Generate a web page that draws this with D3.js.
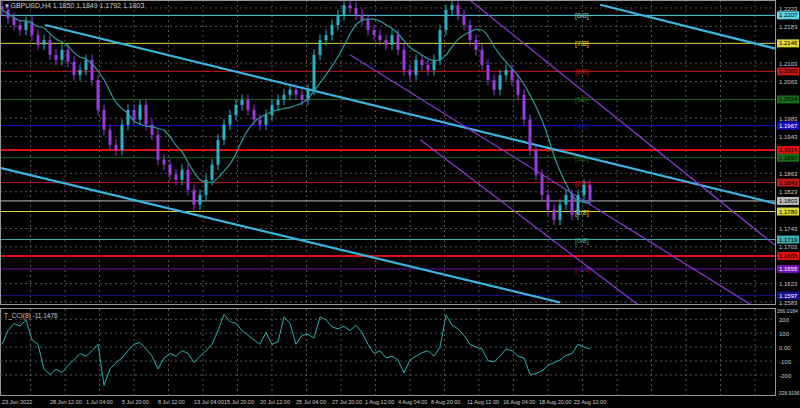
<!DOCTYPE html>
<html><head><meta charset="utf-8">
<script src="https://cdn.jsdelivr.net/npm/d3@7"></script>
<style>body{margin:0;background:#000}svg{display:block}</style>
</head><body><svg id="c" width="800" height="408"></svg>
<script>
const closes=[1.2219,1.2201,1.2186,1.2175,1.2193,1.2164,1.2143,1.2153,1.2121,1.2110,1.2132,1.2106,1.2077,1.2088,1.2110,1.2066,1.2001,1.1958,1.1925,1.1914,1.1969,1.2001,1.1980,1.2012,1.1969,1.1947,1.1893,1.1882,1.1860,1.1849,1.1871,1.1827,1.1795,1.1816,1.1849,1.1882,1.1936,1.1969,1.1990,1.2012,1.2023,1.2001,1.1980,1.1969,1.1990,1.2012,1.2023,1.2034,1.2045,1.2034,1.2023,1.2045,1.2121,1.2153,1.2164,1.2186,1.2208,1.2229,1.2223,1.2208,1.2197,1.2175,1.2164,1.2153,1.2143,1.2164,1.2132,1.2088,1.2077,1.2110,1.2099,1.2088,1.2110,1.2175,1.2219,1.2229,1.2208,1.2186,1.2153,1.2132,1.2099,1.2066,1.2045,1.2077,1.2088,1.2066,1.2034,1.1980,1.1914,1.1860,1.1816,1.1784,1.1762,1.1795,1.1816,1.1773,1.1816,1.1838,1.1805];
const cci=[20,118,170,150,196,52,20,-157,-196,-157,-183,-131,-92,-46,-65,-26,20,-275,-157,-111,-78,-26,20,33,-13,-65,-157,-78,-46,-65,-26,-46,-111,-65,-26,20,118,235,183,170,118,85,52,20,105,20,39,216,170,20,85,92,65,216,196,144,131,150,118,157,105,20,-46,-26,-78,-65,-92,-183,-92,-65,-39,-26,-65,0,229,157,131,85,20,0,-13,-98,-105,-65,-13,-26,-65,-78,-196,-190,-170,-131,-111,-92,-59,-46,20,0,-13];
const priceTicks=[1.2223,1.2183,1.2103,1.2063,1.1983,1.1943,1.1863,1.1823,1.1743,1.1703,1.1623,1.1583];
const levels=[[1.2207,"#5ad6e8","1.2207","[8/8]"],[1.2146,"#d8d838","1.2146","[7/8]"],[1.2085,"#c01818","1.2085","[6/8]"],[1.2024,"#1a6a1a","1.2024","[5/8]"],[1.1967,"#1010c0","1.1967","[4/8]"],[1.1914,"#e01010","1.1914",""],[1.1897,"#1a6a1a","1.1897","[3/8]"],[1.1843,"#c01818","1.1843","[2/8]"],[1.1803,"#bbbbbb","1.1803",""],[1.1780,"#d8d838","1.1780","[1/8]"],[1.1719,"#3ab0b0","1.1719","[0/8]"],[1.1683,"#e01010","1.1666",""],[1.1655,"#7010b0","1.1655","[-1/8]"],[1.1597,"#10108a","1.1597","[-2/8]"]];
const dateLabels=[[0,"23 Jun 2022"],[8,"28 Jun 12:00"],[14,"1 Jul 04:00"],[20,"5 Jul 20:00"],[26,"8 Jul 12:00"],[32,"13 Jul 04:00"],[37,"15 Jul 20:00"],[43,"20 Jul 12:00"],[49,"25 Jul 04:00"],[55,"27 Jul 20:00"],[60.5,"1 Aug 12:00"],[66,"4 Aug 04:00"],[71.5,"8 Aug 20:00"],[77.5,"11 Aug 12:00"],[83.5,"16 Aug 04:00"],[89.5,"18 Aug 20:00"],[95.3,"23 Aug 12:00"]];
const cyanLines=[[[7.2,1.2186],[129.7,1.1795]],[[99.7,1.2230],[129.7,1.2132]],[[-0.3,1.1875],[93,1.1582]]];
const purpleLines=[[[78,1.2240],[128.8,1.1707]],[[58,1.2121],[124.7,1.1578]],[[69.7,1.1936],[106,1.1577]]];
const cciTicks=[200,100,0,-100,-200];

const svg=d3.select("#c");
const F="Liberation Sans Narrow, Liberation Sans, DejaVu Sans";
const x=d3.scaleLinear().domain([0,1]).range([2,8]);
const y=d3.scaleLinear().domain([1.2223,1.1583]).range([8,302]);
const yc=d3.scaleLinear().domain([266,-328.9]).range([310,393]);
const W=775;
svg.append("defs").append("clipPath").attr("id","m").append("rect").attr("x",0).attr("y",0).attr("width",W).attr("height",304);
svg.append("defs").append("clipPath").attr("id","s").append("rect").attr("x",0).attr("y",309).attr("width",W).attr("height",86);
const g=svg.append("g").attr("clip-path","url(#m)");
const gx=d3.range(-1,132,5.75);
g.selectAll(".vx").data(gx).join("line").attr("x1",d=>x(d)).attr("x2",d=>x(d)).attr("y1",0).attr("y2",304).attr("stroke","#555").attr("stroke-dasharray","2,3");
g.selectAll(".hy").data(priceTicks).join("line").attr("x1",0).attr("x2",W).attr("y1",d=>y(d)).attr("y2",d=>y(d)).attr("stroke","#555").attr("stroke-dasharray","2,3");
g.selectAll(".lv").data(levels).join("line").attr("x1",0).attr("x2",W).attr("y1",d=>y(d[0])).attr("y2",d=>y(d[0])).attr("stroke",d=>d[1]).attr("stroke-width",d=>d[1]=="#e01010"?2:1);
g.selectAll(".lt").data(levels.filter(d=>d[3])).join("text").attr("x",575).attr("y",d=>y(d[0])+3).attr("fill",d=>d[1]).attr("font-size",7).attr("font-family",F).text(d=>d[3]);
const ln=d3.line().x(d=>x(d[0])).y(d=>y(d[1]));
g.selectAll(".cl").data(cyanLines).join("path").attr("d",ln).attr("stroke","#3cb4e0").attr("stroke-width",2.2).attr("fill","none");
g.selectAll(".pl").data(purpleLines).join("path").attr("d",ln).attr("stroke","#8a3ad8").attr("stroke-width",1.2).attr("fill","none");
const opens=closes.map((c,i)=>i?closes[i-1]:c+0.0008);
const cg=g.selectAll(".cd").data(closes).join("g");
cg.append("line").attr("x1",(d,i)=>x(i)).attr("x2",(d,i)=>x(i))
 .attr("y1",(d,i)=>y(Math.max(d,opens[i])+0.0012)).attr("y2",(d,i)=>y(Math.min(d,opens[i])-0.0012))
 .attr("stroke",(d,i)=>d>=opens[i]?"#2ab0c8":"#9a3ae0");
cg.append("rect").attr("x",(d,i)=>x(i)-1.5).attr("width",3)
 .attr("y",(d,i)=>y(Math.max(d,opens[i]))).attr("height",(d,i)=>Math.max(1,Math.abs(y(d)-y(opens[i]))))
 .attr("fill",(d,i)=>d>=opens[i]?"#2ab0c8":"#9a3ae0");
const ma=closes.map((c,i)=>d3.mean(closes.slice(Math.max(0,i-7),i+1)));
g.append("path").datum(ma).attr("d",d3.line().x((d,i)=>x(i)).y(d=>y(d)).curve(d3.curveMonotoneX)).attr("stroke","#2a9a9a").attr("stroke-width",1.2).attr("fill","none");
svg.append("rect").attr("x",0.5).attr("y",0.5).attr("width",W).attr("height",304).attr("fill","none").attr("stroke","#999");
svg.append("rect").attr("x",0.5).attr("y",308.5).attr("width",W).attr("height",87).attr("fill","none").attr("stroke","#999");
svg.append("text").attr("x",5).attr("y",8).attr("fill","#ccc").attr("font-size",7).attr("font-family",F).text("▾ GBPUSD,H4  1.1850 1.1849 1.1792 1.1803");
const ax=svg.append("g");
ax.selectAll("text").data(priceTicks).join("text").attr("x",W+4).attr("y",d=>y(d)+2.5).attr("fill","#ccc").attr("font-size",6).attr("font-family",F).text(d=>d.toFixed(4));
const lb=ax.selectAll(".lb").data(levels).join("g").attr("transform",d=>`translate(${W+2},${y(d[0])-4})`);
lb.append("rect").attr("width",22).attr("height",8).attr("fill",d=>d[1]);
lb.append("text").attr("x",2).attr("y",6).attr("font-size",6).attr("font-family",F).attr("fill",d=>d[1]=="#10108a"||d[1]=="#1010c0"||d[1]=="#7010b0"?"#fff":"#000").text(d=>d[2]);
const s=svg.append("g").attr("clip-path","url(#s)");
s.selectAll(".v").data(gx).join("line").attr("x1",d=>x(d)).attr("x2",d=>x(d)).attr("y1",309).attr("y2",396).attr("stroke","#555").attr("stroke-dasharray","2,3");
s.selectAll(".h").data(cciTicks).join("line").attr("x1",0).attr("x2",W).attr("y1",d=>yc(d)).attr("y2",d=>yc(d)).attr("stroke","#555").attr("stroke-dasharray","2,3");
s.append("path").datum(cci).attr("d",d3.line().x((d,i)=>x(i)).y(d=>yc(d))).attr("stroke","#2ab0b0").attr("stroke-width",1).attr("fill","none");
svg.append("text").attr("x",4).attr("y",318).attr("fill","#ccc").attr("font-size",6.5).attr("font-family",F).text("T_CCI(8) -11.1476");
svg.selectAll(".ct").data(cciTicks).join("text").attr("x",W+4).attr("y",d=>yc(d)+2.5).attr("fill","#ccc").attr("font-size",6).attr("font-family",F).text(d=>d==0?"0.00":d);
svg.append("text").attr("x",W+2).attr("y",313).attr("fill","#ccc").attr("font-size",5).attr("font-family",F).text("266.0184");
svg.append("text").attr("x",W+2).attr("y",395).attr("fill","#ccc").attr("font-size",5).attr("font-family",F).text("-328.9196");
svg.selectAll(".dl").data(dateLabels).join("text").attr("x",d=>x(d[0])).attr("y",404).attr("fill","#ccc").attr("font-size",5.5).attr("font-family",F).text(d=>d[1]);
</script></body></html>
